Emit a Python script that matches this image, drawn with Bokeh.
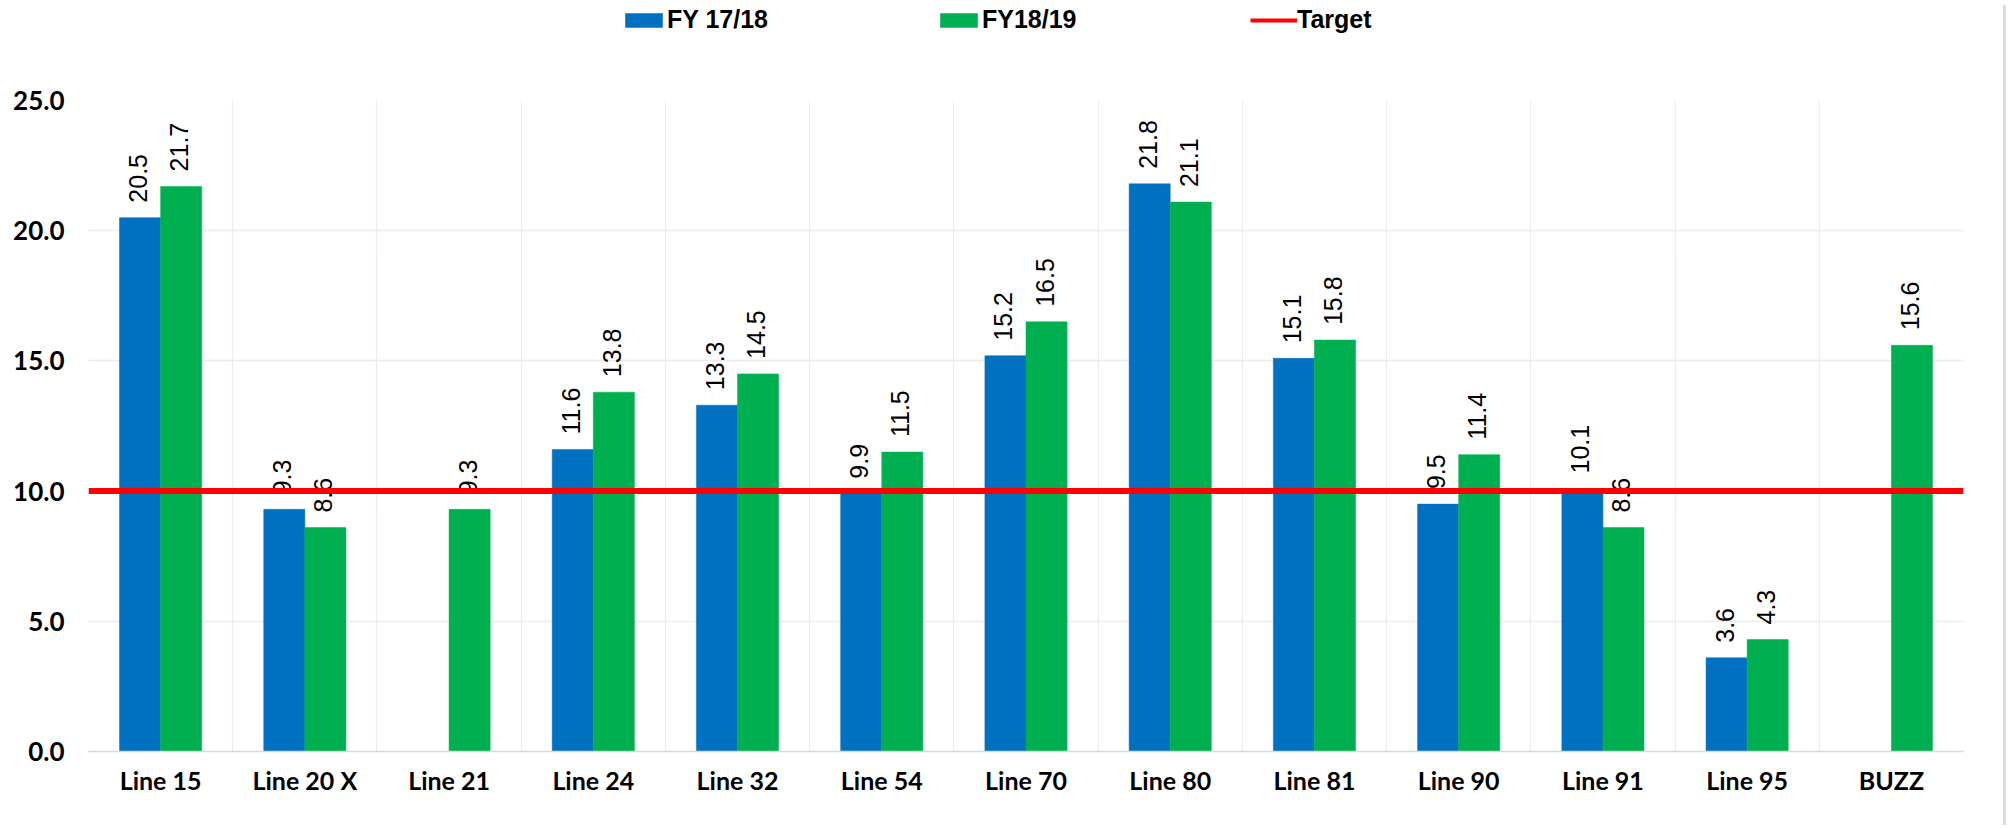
import math
import numpy as np
from bokeh.plotting import figure
from bokeh.models import (ColumnDataSource, FixedTicker, PrintfTickFormatter, Span,
                          Legend, LegendItem, Div)
from bokeh.layouts import row, column
from bokeh.embed import file_html
from bokeh.resources import INLINE
from bokeh.core.properties import value

# ---- data ----
categories = ["Line 15", "Line 20 X", "Line 21", "Line 24", "Line 32", "Line 54", "Line 70",
              "Line 80", "Line 81", "Line 90", "Line 91", "Line 95", "BUZZ"]
fy1718 = [20.5, 9.3, float("nan"), 11.6, 13.3, 9.9, 15.2, 21.8, 15.1, 9.5, 10.1, 3.6, float("nan")]
fy1819 = [21.7, 8.6, 9.3, 13.8, 14.5, 11.5, 16.5, 21.1, 15.8, 11.4, 8.6, 4.3, 15.6]
target = 10.0
y_ticks = [0, 5, 10, 15, 20, 25]
series_names = ["FY 17/18", "FY18/19", "Target"]

BLUE = "#0070C0"
GREEN = "#00B050"
RED = "#FF0000"
BAR_W = 0.285

n = len(categories)
centers = np.arange(n) + 0.5

def lab(v):
    return "" if (v is None or (isinstance(v, float) and math.isnan(v))) else f"{v:.1f}"

src1 = ColumnDataSource(dict(x=centers - BAR_W / 2, top=fy1718, label=[lab(v) for v in fy1718]))
src2 = ColumnDataSource(dict(x=centers + BAR_W / 2, top=fy1819, label=[lab(v) for v in fy1819]))
tsrc = ColumnDataSource(dict(x=[0, n], y=[target, target]))

W = 1998
LEG_H = 60
H = 760

# ---- legend strip (same series, kept outside its visible ranges; only the legend shows) ----
lf = figure(width=W, height=LEG_H, output_backend="svg", toolbar_location=None,
            x_axis_location=None, y_axis_location=None,
            x_range=(1000, 1001), y_range=(1000, 1001),
            min_border_left=0, min_border_right=0, min_border_top=0, min_border_bottom=0)
lf.outline_line_color = None
lf.grid.visible = False
lr1 = lf.vbar(x="x", top="top", width=BAR_W, bottom=0, source=src1, fill_color=BLUE, line_color=None)
lr2 = lf.vbar(x="x", top="top", width=BAR_W, bottom=0, source=src2, fill_color=GREEN, line_color=None)
lr3 = lf.line(x="x", y="y", source=tsrc, line_color=RED, line_width=4)
legend = Legend(items=[LegendItem(label=series_names[0], renderers=[lr1]),
                       LegendItem(label=series_names[1], renderers=[lr2]),
                       LegendItem(label=series_names[2], renderers=[lr3])],
                orientation="horizontal", location=(532, 26),
                glyph_width=47, glyph_height=18, label_standoff=0,
                label_width=268, spacing=0, padding=0, margin=0,
                border_line_color=None, background_fill_alpha=0,
                label_text_font="Liberation Sans", label_text_font_style="bold",
                label_text_font_size="25px", label_text_color="black")
lf.add_layout(legend, "center")

# ---- main chart ----
p = figure(width=W, height=H, output_backend="svg", toolbar_location=None,
           x_range=(0, n), y_range=(y_ticks[0], y_ticks[-1]),
           min_border_left=88, min_border_right=35, min_border_top=40, min_border_bottom=69)
p.outline_line_color = None
p.background_fill_color = "white"
p.border_fill_color = "white"

r1 = p.vbar(x="x", top="top", width=BAR_W, bottom=0, source=src1,
            fill_color=BLUE, line_color=BLUE, line_width=0.5)
r2 = p.vbar(x="x", top="top", width=BAR_W, bottom=0, source=src2,
            fill_color=GREEN, line_color=GREEN, line_width=0.5)

for s in (src1, src2):
    p.text(x="x", y="top", text="label", source=s, angle=math.pi / 2,
           text_align="left", text_baseline="middle", x_offset=-2, y_offset=-15,
           text_font=value("Liberation Sans"), text_font_size="25px", text_color="black")

span = Span(location=target, dimension="width", line_color=RED, line_width=6)
p.add_layout(span)

# axes
xa = p.xaxis[0]
xa.ticker = FixedTicker(ticks=list(centers))
xa.major_label_overrides = {float(c): name for c, name in zip(centers, categories)}
xa.major_tick_line_color = None
xa.minor_tick_line_color = None
xa.axis_line_color = "#d9d9d9"
xa.axis_line_width = 1.5
xa.major_label_text_font = "Lato"
xa.major_label_text_font_style = "bold"
xa.major_label_text_font_size = "25px"
xa.major_label_text_color = "black"
xa.major_label_standoff = 7

ya = p.yaxis[0]
ya.ticker = FixedTicker(ticks=y_ticks)
ya.formatter = PrintfTickFormatter(format="%.1f")
ya.major_tick_line_color = None
ya.minor_tick_line_color = None
ya.axis_line_color = None
ya.major_label_text_font = "Lato"
ya.major_label_text_font_style = "bold"
ya.major_label_text_font_size = "26px"
ya.major_label_text_color = "black"
ya.major_label_standoff = 18

p.xgrid.ticker = FixedTicker(ticks=list(range(n + 1)))
p.xgrid.grid_line_color = "#ececec"
p.xgrid.grid_line_width = 1.2
p.ygrid.grid_line_color = "#ececec"
p.ygrid.grid_line_width = 1.5

edge = Div(width=3, height=LEG_H + H, styles={"background-color": "#dcdcdc"})
layout = row(column(lf, p, spacing=0), edge, spacing=0)

open("out.html", "w").write(file_html(layout, INLINE))
